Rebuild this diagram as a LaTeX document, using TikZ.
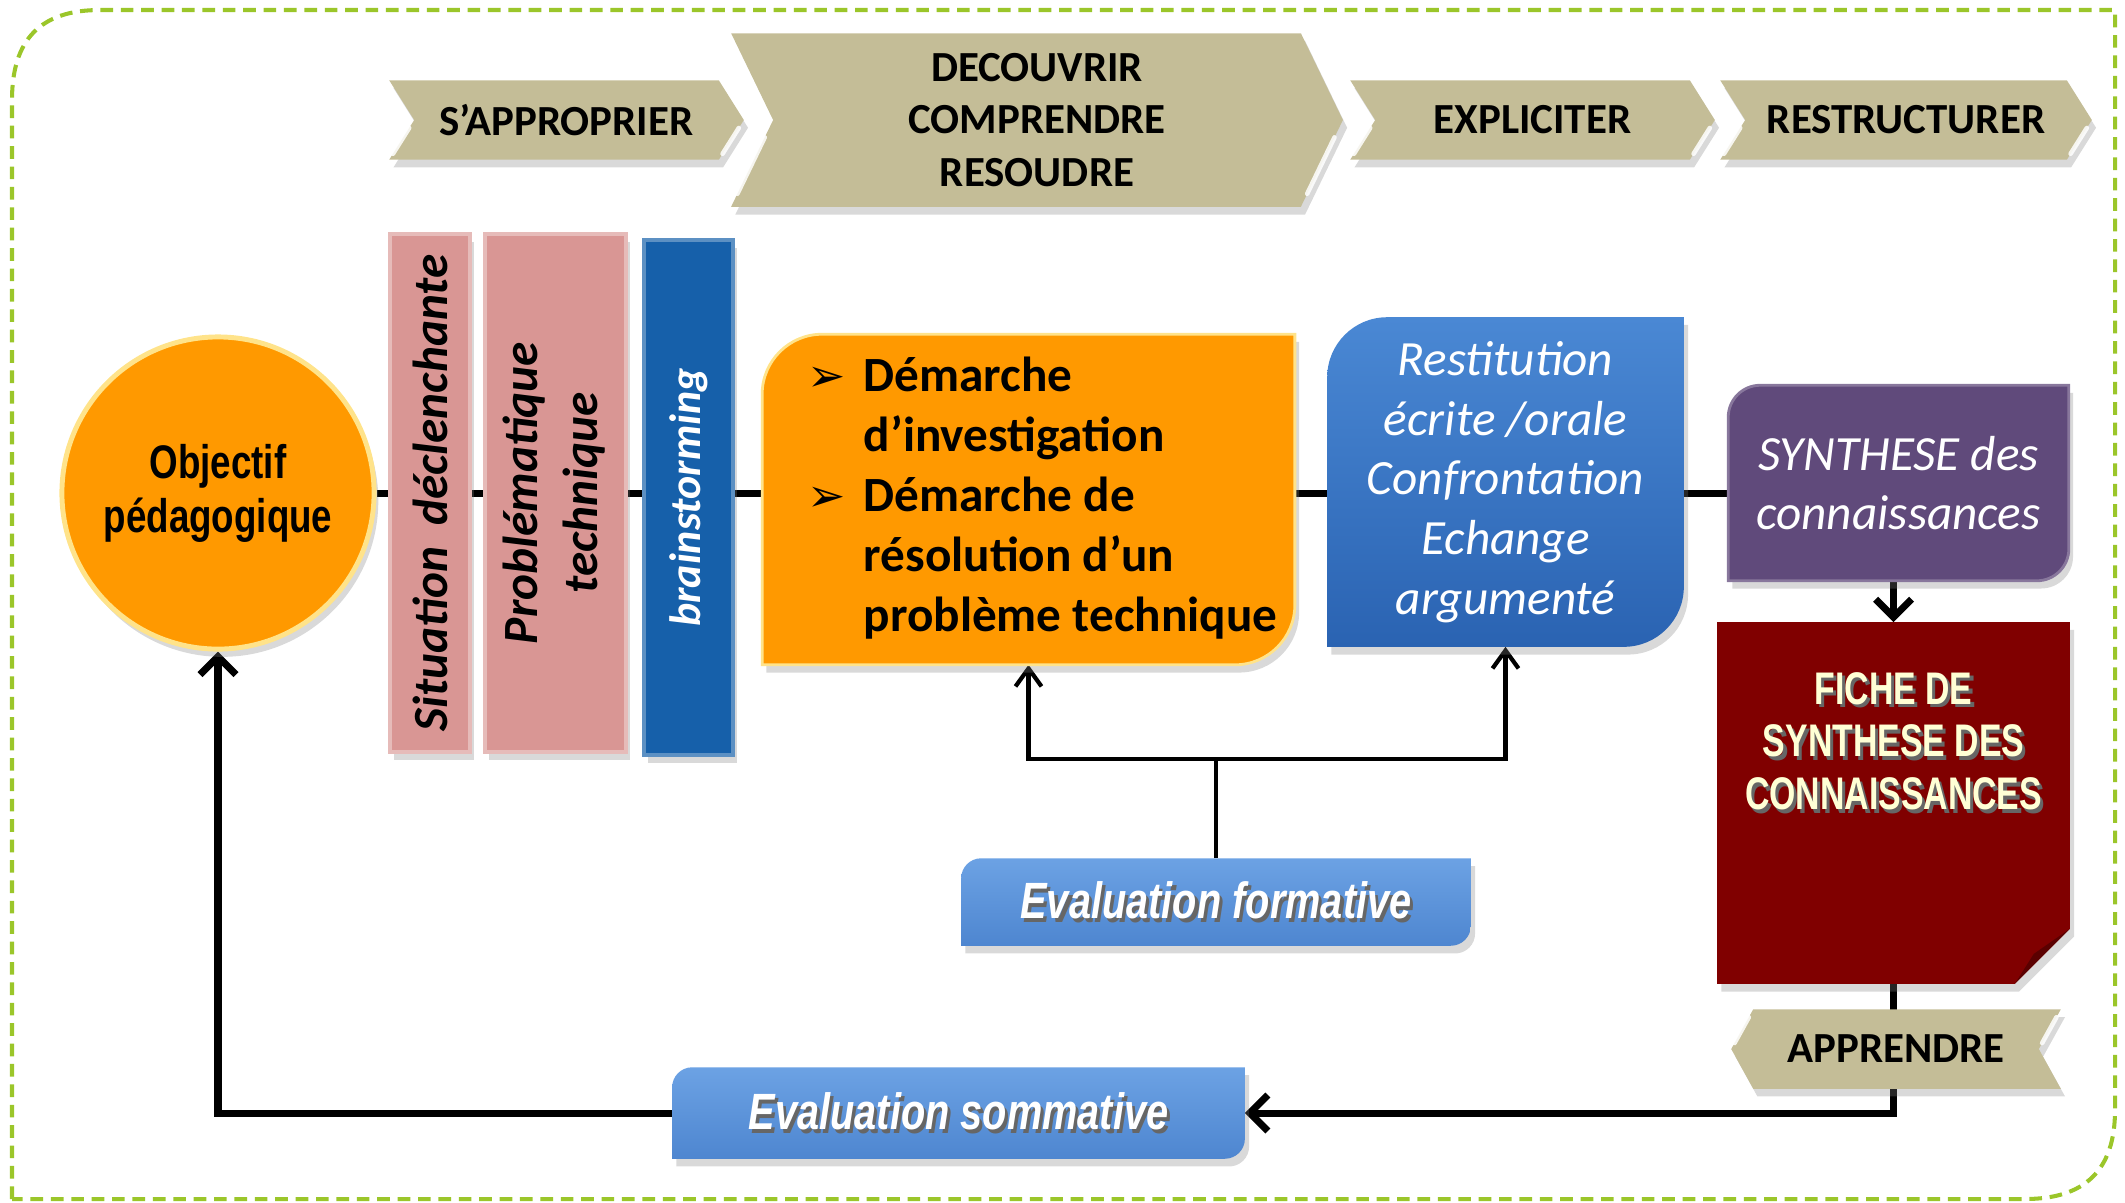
\documentclass[tikz,border=0pt]{standalone}
\usepackage{fontspec}
\setmainfont{Carlito}
\newfontfamily\narrowsf{Liberation Sans}[FakeStretch=0.78]
\newfontfamily\fichefont{Liberation Sans}[FakeStretch=0.74]
\newfontfamily\dejavu{DejaVu Sans}
\usepackage{graphicx}
\usetikzlibrary{calc,shadows,arrows.meta}
\pgfdeclarelayer{lines}
\pgfdeclarelayer{shapes}
\pgfsetlayers{lines,shapes,main}

\definecolor{khaki}{HTML}{C4BD97}
\definecolor{orangeC}{HTML}{FF9900}
\definecolor{rimC}{HTML}{FFE38A}
\definecolor{pinkC}{HTML}{D99694}
\definecolor{brainC}{HTML}{1660AA}
\definecolor{restTop}{HTML}{4A88D4}
\definecolor{restBot}{HTML}{2A63B2}
\definecolor{purpleC}{HTML}{604A7B}
\definecolor{ficheC}{HTML}{800000}
\definecolor{ficheDark}{HTML}{5A0000}
\definecolor{cream}{HTML}{FFFFD5}
\definecolor{evalTop}{HTML}{6CA2E4}
\definecolor{evalBot}{HTML}{4E86D0}
\definecolor{borderC}{HTML}{9BC62A}

\newcommand\tshadow[1]{\makebox[0pt][l]{\hspace{0.9pt}\raisebox{-1.1pt}{\textcolor{black!60}{#1}}}#1}

% rounded diagonal corners (top-left and bottom-right), arc-like cubic corners
\newcommand\diagshape[3]{%
  \path[#3] (#1.north east) -- ($(#1.south east)+(0,-#2)$)
    .. controls ($(#1.south east)+(0,-0.448*#2)$) and ($(#1.south east)+(-0.448*#2,0)$)
    .. ($(#1.south east)+(-#2,0)$)
    -- (#1.south west) -- ($(#1.north west)+(0,#2)$)
    .. controls ($(#1.north west)+(0,0.448*#2)$) and ($(#1.north west)+(0.448*#2,0)$)
    .. ($(#1.north west)+(#2,0)$) -- cycle;}

% right pointing chevron
\newcommand\chevright[2]{%
  \coordinate (#1-notch) at ($(#1.west)+(#2,0)$);
  \coordinate (#1-tr) at ($(#1.north east)+(-#2,0)$);
  \coordinate (#1-br) at ($(#1.south east)+(-#2,0)$);
  \path[chevfill] (#1.north west) -- (#1-tr) -- (#1.east) -- (#1-br)
    -- (#1.south west) -- (#1-notch) -- cycle;
  \draw[glint] ($(#1-notch)!0.2!(#1.south west)$) -- ($(#1-notch)!0.85!(#1.south west)$);
  \draw[glint] ($(#1.east)!0.2!(#1-br)$) -- ($(#1.east)!0.85!(#1-br)$);}

% left pointing chevron
\newcommand\chevleft[2]{%
  \coordinate (#1-notch) at ($(#1.east)+(-#2,0)$);
  \coordinate (#1-tl) at ($(#1.north west)+(#2,0)$);
  \coordinate (#1-bl) at ($(#1.south west)+(#2,0)$);
  \path[chevfill] (#1.west) -- (#1-tl) -- (#1.north east) -- (#1-notch)
    -- (#1.south east) -- (#1-bl) -- cycle;
  \draw[glint] ($(#1.west)!0.15!(#1-tl)$) -- ($(#1.west)!0.8!(#1-tl)$);
  \draw[glint] ($(#1-notch)!0.15!(#1.north east)$) -- ($(#1-notch)!0.8!(#1.north east)$);}

\begin{document}
\begin{tikzpicture}[x=0.01cm,y=-0.01cm,
  shad/.style={drop shadow={shadow xshift=1.2pt,shadow yshift=-2.2pt,opacity=0.3}},
  chev/.style={inner sep=0pt, align=center, text=black,
    font=\fontsize{12.2}{15}\selectfont\bfseries},
  chevfill/.style={fill=khaki, shad},
  glint/.style={white, line width=1.3pt, opacity=0.85, line cap=round},
  bar/.style={inner sep=0pt, line width=1pt, shad,
    font=\fontsize{14}{17}\selectfont\bfseries\itshape},
  boxnode/.style={inner sep=0pt, align=center},
  evalnode/.style={inner sep=0pt, text=white,
    font=\narrowsf\fontsize{14.5}{17}\selectfont\bfseries\itshape},
  thickline/.style={line width=2pt},
  thinline/.style={line width=1.2pt},
  arrbig/.style={-{Straight Barb[length=1.8mm,width=3.6mm]}},
  arrthin/.style={-{Straight Barb[length=1.8mm,width=2.6mm]}}]

\useasboundingbox (0,0) rectangle (2125,1202);

% outer dashed frame
\draw[borderC, line width=1.15pt, dash pattern=on 3.6pt off 2.2pt]
  (12,1199) -- (12,100) .. controls (12,40) and (40,10) .. (100,10) -- (2115,10)
  -- (2115,1110) .. controls (2115,1170) and (2085,1199) .. (2025,1199) -- cycle;

% ---- top chevrons (text nodes) ----
\node[chev, minimum width=3.53cm, minimum height=0.78cm] (app) at (566.5,120) {S’APPROPRIER};
\node[chev, minimum width=6.10cm, minimum height=1.72cm] (dec) at (1037,120) {DECOUVRIR\\COMPRENDRE\\RESOUDRE};
\node[chev, minimum width=3.63cm, minimum height=0.78cm] (exp) at (1532.5,120) {EXPLICITER};
\node[chev, minimum width=3.70cm, minimum height=0.78cm] (res) at (1906,120) {RESTRUCTURER};
\node[chev, minimum width=3.28cm, minimum height=0.78cm] (appr) at (1896,1049) {APPRENDRE};

% ---- circle ----
\node[circle, minimum size=3.12cm, inner sep=0pt, fill=orangeC, draw=rimC, line width=1.4pt,
  shad, align=center, font=\narrowsf\fontsize{13.4}{15.4}\selectfont\bfseries] (obj) at (218,493)
  {Objectif\\pédagogique};

% ---- vertical bars ----
\node[bar, fill=pinkC, draw=pinkC!65!white, minimum width=0.80cm, minimum height=5.18cm] (sit) at (430,493)
  {\rotatebox{90}{Situation\hspace{0.2em} déclenchante}};
\node[bar, fill=pinkC, draw=pinkC!65!white, minimum width=1.41cm, minimum height=5.18cm] (prob) at (555.5,493)
  {\rotatebox{90}{\begin{tabular}{@{}c@{}}Problématique\\technique\end{tabular}}};
\node[bar, fill=brainC, draw=brainC!70!white, text=white, minimum width=0.89cm, minimum height=5.15cm,
  font=\fontsize{12.5}{15}\selectfont\bfseries\itshape] (brain) at (688.5,497.5)
  {\rotatebox{90}{brainstorming}};

% ---- main boxes (text) ----
\node[boxnode, minimum width=5.31cm, minimum height=3.29cm, font=\fontsize{14}{17}\selectfont\bfseries]
  (dem) at (1028.5,499.5)
  {\hspace*{8pt}\begin{tabular}{@{}l@{\hspace{5pt}}l@{}}
   {\dejavu\fontsize{13}{17}\selectfont ➢} & Démarche\\
   & d’investigation\\
   {\dejavu\fontsize{13}{17}\selectfont ➢} & Démarche de\\
   & résolution d’un\\
   & problème technique
   \end{tabular}};
\node[boxnode, minimum width=3.55cm, minimum height=3.28cm, text=white,
  font=\fontsize{14}{17}\selectfont\itshape] (rest) at (1505.5,482)
  {Restitution\\écrite /orale\\Confrontation\\Echange\\argumenté};
\node[boxnode, minimum width=3.39cm, minimum height=1.94cm, text=white,
  font=\fontsize{14}{17}\selectfont\itshape] (syn) at (1898.5,483)
  {SYNTHESE des\\connaissances};
\node[boxnode, minimum width=3.51cm, minimum height=3.60cm] (fiche) at (1893.5,803) {};
\node[boxnode, text=cream, font=\fichefont\fontsize{13}{15}\selectfont\bfseries] (fichetxt) at (1893.5,743)
  {\tshadow{FICHE DE}\\\tshadow{SYNTHESE DES}\\\tshadow{CONNAISSANCES}};

% ---- evaluation boxes ----
\node[evalnode, minimum width=5.08cm, minimum height=0.86cm] (form) at (1216,902) {\tshadow{Evaluation formative}};
\node[evalnode, minimum width=5.71cm, minimum height=0.90cm] (som) at (958.5,1113) {\tshadow{Evaluation sommative}};

% ---- shapes behind text ----
\begin{pgfonlayer}{shapes}
  \chevright{app}{25}
  \chevright{dec}{42}
  \chevright{exp}{25}
  \chevright{res}{25}
  \chevleft{appr}{22}
  \diagshape{dem}{60}{fill=orangeC, draw=rimC, line width=0.8pt, shad}
  \diagshape{rest}{60}{top color=restTop, bottom color=restBot, shad}
  \diagshape{syn}{32}{fill=purpleC, draw=purpleC!75!white, line width=0.8pt, shad}
  \diagshape{form}{20}{top color=evalTop, bottom color=evalBot, shad}
  \diagshape{som}{20}{top color=evalTop, bottom color=evalBot, shad}
  \path[fill=ficheC, shad] (fiche.north west) -- (fiche.north east)
    -- ($(fiche.south east)+(0,-55)$) -- ($(fiche.south east)+(-55,0)$)
    -- (fiche.south west) -- cycle;
  \fill[ficheDark] ($(fiche.south east)+(0,-55)$) -- ($(fiche.south east)+(-55,0)$)
    -- ($(fiche.south east)+(-36,-30)$) -- cycle;
\end{pgfonlayer}

% ---- connectors ----
\begin{pgfonlayer}{lines}
  \draw[thickline] (obj.east) -- (obj.east -| syn.west);
  \draw[thickline, arrbig] (syn.south -| fiche.north) -- (fiche.north);
  \draw[thickline, arrbig] (fiche.south) |- (som.east);
  \draw[thickline, arrbig] (som.west) -| (obj.south);
  \coordinate (fj) at (1216,759);
  \draw[thinline] (form.north) -- (fj);
  \draw[thinline, arrthin] (fj) -| (dem.south);
  \draw[thinline, arrthin] (fj) -| (rest.south);
\end{pgfonlayer}
\end{tikzpicture}
\end{document}
